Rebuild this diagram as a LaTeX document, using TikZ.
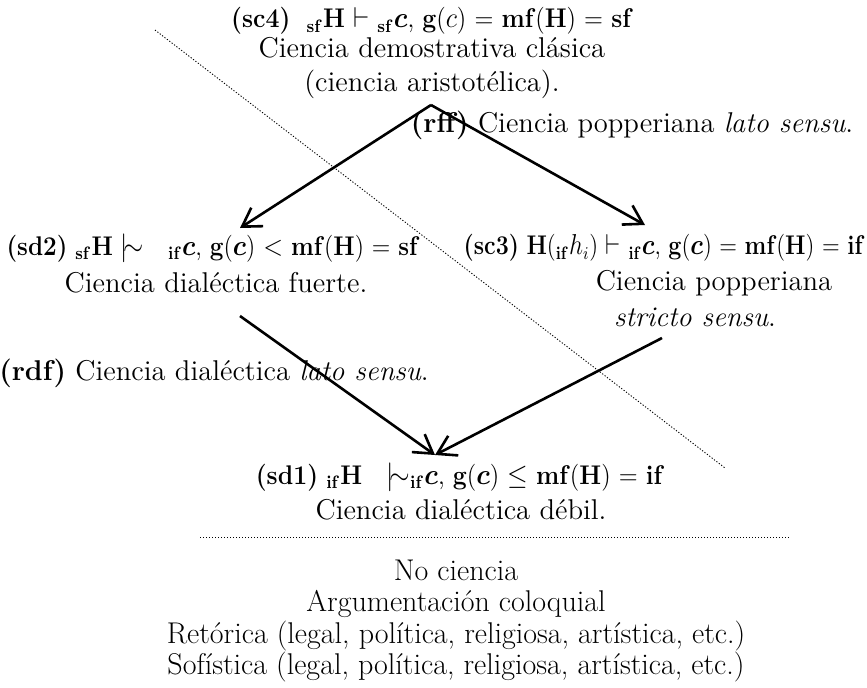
\documentclass[tikz,border=0pt]{standalone}
\usepackage{amsmath}
\usepackage{amssymb}
\usepackage{graphicx}
\usetikzlibrary{arrows.meta}

\tikzset{
  txt/.style={inner sep=0pt, align=center, font=\fontsize{14.3}{17.3}\selectfont},
  form/.style={inner sep=0pt, font=\fontsize{13.5}{15}\selectfont},
  flow/.style={line width=1.3pt, -{Straight Barb[length=9pt,width=11pt,line width=1.3pt]}},
  cut/.style={line width=0.45pt, dash pattern=on 0.6pt off 0.9pt}
}
\newcommand{\pre}[1]{$_{\mathbf{#1}}$}
\newcommand{\snake}{$\mid\!\sim$}
\newcommand{\tight}[2][0.92]{\scalebox{#1}[1]{#2}}

\begin{document}
\begin{tikzpicture}[x=0.5pt,y=-0.5pt]
\useasboundingbox (0,0) rectangle (867,687);
% top level
\node[form] (sc4) at (432,21) {\tight{\textbf{(sc4)}~~\pre{sf}\textbf{H} $\vdash$ \pre{sf}$\boldsymbol{c}$, \textbf{g}($c$) = \textbf{mf}(\textbf{H}) = \textbf{sf}}};
\node[txt] (sc4t) at (432,68) {Ciencia demostrativa cl\'asica\\(ciencia aristot\'elica).};
\node[txt] (rff) at (632,125) {\textbf{(rff)} Ciencia popperiana \textit{lato sensu}.};
% middle level
\node[form] (sd2) at (213,248) {\tight[0.9]{\textbf{(sd2)} \pre{sf}\textbf{H} \snake\quad \pre{if}$\boldsymbol{c}$, \textbf{g}($\boldsymbol{c}$) $<$ \textbf{mf}(\textbf{H}) = \textbf{sf}}};
\node[txt] (sd2t) at (216,283) {Ciencia dial\'ectica fuerte.};
\node[form] (sc3) at (664,248) {\tight[0.86]{\textbf{(sc3)} \textbf{H}(\pre{if}$h_{i}$) $\vdash$ \pre{if}$\boldsymbol{c}$, \textbf{g}($\boldsymbol{c}$) = \textbf{mf}(\textbf{H}) = \textbf{if}}};
\node[txt] (sc3t) at (714,283) {Ciencia popperiana};
\node[txt] (sc3s) at (695,317) {\textit{stricto sensu}.};
\node[txt] (rdf) at (214,373) {\textbf{(rdf)} Ciencia dial\'ectica \textit{lato sensu}.};
% bottom level
\node[form] (sd1) at (460,477) {\tight{\textbf{(sd1)} \pre{if}\textbf{H}~~~\snake\pre{if}$\boldsymbol{c}$, \textbf{g}($\boldsymbol{c}$)~$\leq$~\textbf{mf}(\textbf{H}) = \textbf{if}}};
\node[txt] (sd1t) at (461,510) {Ciencia dial\'ectica d\'ebil.};
\node[txt, font=\fontsize{15}{15.7}\selectfont] (nc) at (456,621) {No ciencia\\Argumentaci\'on coloquial\\
Ret\'orica (legal, pol\'itica, religiosa, art\'istica, etc.)\\
Sof\'istica (legal, pol\'itica, religiosa, art\'istica, etc.)};
% arrows
\coordinate (top) at (431,105);
\coordinate (sd2in) at (240,228);
\coordinate (sc3in) at (645,225);
\coordinate (sd2out) at (240,316);
\coordinate (sc3out) at (662,338);
\coordinate (sd1in) at (435,455);
\draw[flow] (top) -- (sd2in);
\draw[flow] (top) -- (sc3in);
\draw[flow] (sd2out) -- (sd1in);
\draw[flow] (sc3out) -- (sd1in);
% dotted cuts
\coordinate (c1) at (155,30);
\coordinate (c2) at (725,468);
\coordinate (h1) at (200,537);
\coordinate (h2) at (790,537);
\draw[cut] (c1) -- (c2);
\draw[cut] (h1) -- (h2);
\end{tikzpicture}
\end{document}
